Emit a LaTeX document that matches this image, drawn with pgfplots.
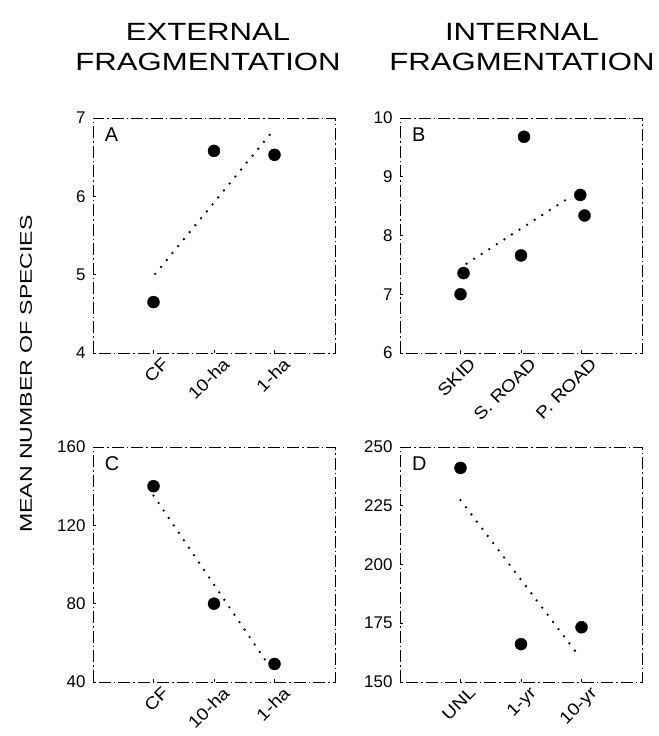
\documentclass[border=0pt]{standalone}
\usepackage{fontspec}
\setmainfont{Liberation Sans}
\newfontfamily\widefont[FakeStretch=1.25]{Liberation Sans}
\newfontfamily\ywidefont[FakeStretch=1.36]{Liberation Sans}
\newfontfamily\tickfont[FakeStretch=1.15]{Liberation Sans}
\usepackage{pgfplots}
\pgfplotsset{compat=1.18}
\tikzset{plab/.style={anchor=north west, font=\fontsize{20}{22}\selectfont}}
\begin{document}
\begin{tikzpicture}[x=1bp,y=1bp]
\useasboundingbox (0,0) rectangle (659,736);
\pgfplotsset{
 panel/.style={
   scale only axis, width=242bp, height=235bp, anchor=south west,
   xmin=-1, xmax=3, xtick={0,1,2},
   axis line style={line width=0.6bp, dash pattern=on 12bp off 3bp on 1.5bp off 3bp},
   tick style={line width=0.6bp, black},
   major tick length=3bp,
   tick pos=left,
   y tick label style={font=\fontsize{17}{19}\selectfont, xshift=-4bp},
   x tick label style={font=\tickfont\fontsize{17}{19}\selectfont, rotate=45, anchor=north east, inner sep=2bp, xshift=5bp, yshift=-6bp},
   /pgf/number format/assume math mode=true,
   clip=false,
 },
 pts/.style={only marks, mark=*, mark size=6bp, black},
 reg/.style={black, line width=2.6bp, line cap=round, dash pattern=on 0bp off 9bp},
}
\node[align=center, font=\widefont\fontsize{25}{30}\selectfont] at (208bp,689bp) {EXTERNAL\\FRAGMENTATION};
\node[align=center, font=\widefont\fontsize{25}{30}\selectfont] at (522bp,689bp) {INTERNAL\\FRAGMENTATION};
\node[rotate=90, font=\ywidefont\fontsize{17}{20}\selectfont] at (26bp,362bp) {MEAN NUMBER OF SPECIES};

\begin{axis}[panel, at={(93bp,383bp)}, ymin=4, ymax=7, ytick={4,5,6,7}, xticklabels={CF,10-ha,1-ha}]
\addplot[pts] coordinates {(0,4.65)(1,6.58)(2,6.53)};
\addplot[reg] coordinates {(0.03,5.01)(2,6.86)};
\node[plab] at (rel axis cs:0.035,0.975) {A};
\end{axis}

\begin{axis}[panel, at={(400bp,383bp)}, ymin=6, ymax=10, ytick={6,7,8,9,10}, xticklabels={SKID,S. ROAD,P. ROAD}]
\addplot[pts] coordinates {(0,7.00)(0.05,7.36)(1,7.66)(1.05,9.68)(1.98,8.69)(2.05,8.34)};
\addplot[reg] coordinates {(0.1,7.52)(1.85,8.68)};
\node[plab] at (rel axis cs:0.035,0.975) {B};
\end{axis}

\begin{axis}[panel, at={(93bp,54bp)}, ymin=40, ymax=160, ytick={40,80,120,160}, xticklabels={CF,10-ha,1-ha}]
\addplot[pts] coordinates {(0,140)(1,80)(2,49.2)};
\addplot[reg] coordinates {(0,135.2)(1.88,49.7)};
\node[plab] at (rel axis cs:0.035,0.975) {C};
\end{axis}

\begin{axis}[panel, at={(400bp,54bp)}, ymin=150, ymax=250, ytick={150,175,200,225,250}, xticklabels={UNL,1-yr,10-yr}]
\addplot[pts] coordinates {(0,241.1)(1,166.1)(2,173.3)};
\addplot[reg] coordinates {(0,227.4)(1.93,162.0)};
\node[plab] at (rel axis cs:0.035,0.975) {D};
\end{axis}
\end{tikzpicture}
\end{document}
